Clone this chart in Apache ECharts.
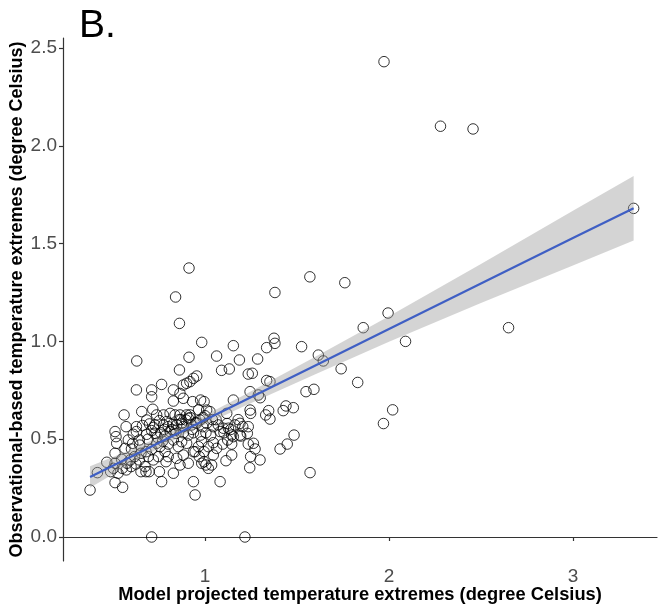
<!DOCTYPE html>
<html>
<head>
<meta charset="utf-8">
<script src="https://cdn.jsdelivr.net/npm/echarts@6/dist/echarts.min.js"></script>
<style>
  html, body { margin: 0; padding: 0; background: #fff; }
  #chart { width: 659px; height: 608px; }
</style>
</head>
<body>
<div id="chart"></div>
<script>
// Model projected (x) vs observational-based (y) temperature extremes, degree Celsius
const modelX = [
  1.973, 2.28, 2.457, 3.33, 0.913, 1.57, 1.76, 1.38, 0.84,
  1.995, 1.86, 2.65, 2.09, 1.74, 1.83, 2.02, 1.97,
  0.861, 0.982, 1.154, 1.335, 1.375, 1.38, 1.525, 1.616, 1.643,
  0.629, 0.913, 1.063, 1.187, 1.286, 0.861, 1.09, 1.132, 1.235, 1.257,
  0.955, 0.937, 0.918, 0.9, 0.882, 0.764, 0.627, 0.71, 0.828, 0.864,
  0.71, 0.882, 0.933, 0.976, 0.995, 1.154, 1.245, 1.29, 1.30, 1.335, 1.353,
  1.549, 1.592, 0.828,
  0.56, 0.656, 0.716, 0.737, 0.774, 0.81, 0.837, 0.864, 0.9, 0.909, 0.918,
  1.009, 1.027, 1.118, 1.245, 1.248, 1.33, 1.346, 1.353, 1.425, 1.44, 1.48,
  0.627, 0.683, 0.698, 0.728, 0.752, 0.774, 0.792, 0.80, 0.824, 0.846, 0.873,
  0.882, 0.897, 0.928, 0.955, 0.973, 0.987, 1.009, 1.045, 1.072, 1.10, 1.127,
  1.163, 1.19, 1.205, 1.235,
  0.511, 0.516, 0.583, 0.61, 0.627, 0.643, 0.683, 0.71, 0.728, 0.759, 0.783,
  0.81, 0.842, 0.882, 0.909, 0.937, 0.976, 1.005, 1.031, 1.082, 1.103, 1.145,
  1.19, 1.23, 1.484, 1.447, 1.408, 1.263, 1.235, 1.272, 1.248, 1.299, 1.243, 1.571,
  0.52, 0.565, 0.511, 0.511, 0.547, 0.576, 0.594, 0.617, 0.652, 0.679, 0.692,
  0.71, 0.737, 0.755, 0.783, 0.80, 0.828, 0.855, 0.873, 0.90, 0.937, 0.964,
  0.982, 0.995, 1.018, 1.045, 1.063, 1.096, 1.123, 1.145, 1.154, 1.194,
  0.487, 0.502, 0.527, 0.55, 0.572, 0.598, 0.625, 0.643, 0.652, 0.679, 0.696,
  0.674, 0.719, 0.746, 0.752, 0.764, 0.788, 0.80, 0.828, 0.846, 0.864, 0.882,
  0.909, 0.937, 0.946, 0.946, 0.969, 0.982, 0.995, 1.005, 1.018, 1.036, 1.045,
  1.082, 1.114, 1.145,
  0.375, 0.415, 0.511, 0.552, 0.71, 1.217, 0.571, 0.607, 0.466,
  0.60, 0.645, 0.69, 0.74, 0.78, 0.84, 0.87, 0.92, 0.95, 0.99, 1.06, 1.14,
  0.66, 0.72, 0.77, 0.82, 0.86, 0.93, 0.965, 1.0, 1.04, 1.12, 1.18
];
const obsY = [
  2.43, 2.10, 2.086, 1.68, 1.375, 1.33, 1.30, 1.25, 1.227,
  1.145, 1.07, 1.07, 1.00, 0.86, 0.79, 0.65, 0.58,
  1.092, 0.995, 0.978, 0.968, 1.016, 0.99, 0.973, 0.93, 0.90,
  0.90, 0.919, 0.925, 0.905, 0.91, 0.854, 0.852, 0.859, 0.833, 0.837,
  0.823, 0.811, 0.794, 0.786, 0.777, 0.78, 0.752, 0.752, 0.752, 0.734,
  0.717, 0.709, 0.692, 0.70, 0.692, 0.70, 0.743, 0.726, 0.712, 0.80, 0.794,
  0.743, 0.755, 0.695,
  0.624, 0.641, 0.653, 0.624, 0.624, 0.632, 0.624, 0.624, 0.624, 0.607, 0.624,
  0.649, 0.641, 0.632, 0.649, 0.632, 0.624, 0.646, 0.603, 0.646, 0.67, 0.661,
  0.564, 0.598, 0.578, 0.573, 0.595, 0.573, 0.59, 0.564, 0.576, 0.573, 0.581,
  0.564, 0.598, 0.573, 0.581, 0.598, 0.564, 0.581, 0.564, 0.573, 0.556, 0.556,
  0.573, 0.581, 0.564, 0.564,
  0.539, 0.513, 0.496, 0.525, 0.539, 0.496, 0.525, 0.544, 0.53, 0.533, 0.516,
  0.539, 0.53, 0.533, 0.521, 0.533, 0.521, 0.533, 0.521, 0.539, 0.533, 0.521,
  0.521, 0.53, 0.521, 0.475, 0.45, 0.479, 0.475, 0.45, 0.411, 0.394, 0.354, 0.329,
  0.479, 0.453, 0.428, 0.377, 0.397, 0.377, 0.394, 0.411, 0.428, 0.436, 0.411,
  0.448, 0.479, 0.462, 0.436, 0.475, 0.496, 0.462, 0.487, 0.479, 0.436, 0.462,
  0.487, 0.436, 0.462, 0.482, 0.453, 0.475, 0.496, 0.475, 0.513, 0.516,
  0.334, 0.351, 0.326, 0.351, 0.343, 0.36, 0.373, 0.394, 0.334, 0.334, 0.334,
  0.36, 0.394, 0.411, 0.334, 0.283, 0.385, 0.411, 0.326, 0.402, 0.368, 0.419,
  0.377, 0.283, 0.215, 0.436, 0.411, 0.377, 0.385, 0.368, 0.351, 0.368, 0.419,
  0.283, 0.39, 0.419,
  0.24, 0.329, 0.278, 0.254, 0.0, 0.0, 0.564, 0.479, 0.382,
  0.45, 0.47, 0.50, 0.51, 0.55, 0.545, 0.60, 0.61, 0.585, 0.61, 0.60, 0.55,
  0.57, 0.56, 0.49, 0.55, 0.60, 0.55, 0.65, 0.62, 0.60, 0.58, 0.60
];

// Linear fit and its 95% confidence band, sampled along x
const fitX   = [0.375, 0.6,   0.9,   1.2,   1.6,   2.0,   2.5,   3.0,   3.33];
const fitY   = [0.307, 0.412, 0.552, 0.691, 0.877, 1.063, 1.296, 1.528, 1.681];
const bandLo = [0.252, 0.377, 0.530, 0.663, 0.832, 0.998, 1.196, 1.388, 1.516];
const bandHi = [0.362, 0.447, 0.574, 0.719, 0.922, 1.128, 1.396, 1.668, 1.846];

const xTicks = [1, 2, 3];
const yTicks = [0, 0.5, 1, 1.5, 2, 2.5];

const points = modelX.map((x, i) => [x, obsY[i]]);
const fitLine = fitX.map((x, i) => [x, fitY[i]]);

const FONT = '"Liberation Sans", Arial, Helvetica, sans-serif';

const chart = echarts.init(document.getElementById('chart'), null, { renderer: 'canvas' });
chart.setOption({
  animation: false,
  backgroundColor: '#ffffff',
  title: {
    text: 'B.',
    left: 74,
    top: 2,
    textStyle: { fontFamily: FONT, fontSize: 39, fontWeight: 'normal', color: '#000' }
  },
  grid: { left: 63, right: 2, top: 38, bottom: 47, containLabel: false, outerBoundsMode: 'none' },
  xAxis: {
    type: 'value',
    min: 0.228,
    max: 3.457,
    name: 'Model projected temperature extremes (degree Celsius)',
    nameLocation: 'middle',
    nameGap: 25,
    nameMoveOverlap: false,
    nameTextStyle: { fontFamily: FONT, fontSize: 18.3, fontWeight: 'bold', color: '#000' },
    axisLine: { show: true, lineStyle: { color: '#333', width: 1.2 } },
    axisTick: { show: true, length: 4, customValues: xTicks, lineStyle: { color: '#333', width: 1.2 } },
    axisLabel: {
      customValues: xTicks,
      margin: 6,
      fontFamily: FONT, fontSize: 19, color: '#4d4d4d',
      formatter: v => String(v)
    },
    splitLine: { show: false }
  },
  yAxis: {
    type: 'value',
    min: -0.1227,
    max: 2.551,
    name: 'Observational-based temperature extremes (degree Celsius)',
    nameLocation: 'middle',
    nameGap: 37,
    nameMoveOverlap: false,
    nameRotate: 90,
    nameTextStyle: { fontFamily: FONT, fontSize: 18, fontWeight: 'bold', color: '#000' },
    axisLine: { show: true, lineStyle: { color: '#333', width: 1.2 } },
    axisTick: { show: true, length: 4, customValues: yTicks, lineStyle: { color: '#333', width: 1.2 } },
    axisLabel: {
      customValues: yTicks,
      margin: 6,
      fontFamily: FONT, fontSize: 19, color: '#4d4d4d',
      formatter: v => v.toFixed(1)
    },
    splitLine: { show: false }
  },
  series: [
    {
      type: 'scatter',
      data: points,
      symbol: 'circle',
      symbolSize: 10.5,
      itemStyle: { color: 'rgba(255,255,255,0)', borderColor: '#000', borderWidth: 1 },
      z: 2
    },
    {
      // confidence band drawn as one polygon through the sampled bounds
      type: 'custom',
      data: [0],
      renderItem: (params, api) => {
        const upper = fitX.map((x, i) => api.coord([x, bandHi[i]]));
        const lower = fitX.map((x, i) => api.coord([x, bandLo[i]])).reverse();
        return {
          type: 'polygon',
          shape: { points: upper.concat(lower) },
          style: { fill: 'rgba(153,153,153,0.42)', stroke: null }
        };
      },
      silent: true,
      z: 3
    },
    {
      type: 'line',
      data: fitLine,
      showSymbol: false,
      lineStyle: { color: '#3F5FC4', width: 2.2 },
      silent: true,
      z: 4
    }
  ]
});
</script>
</body>
</html>
